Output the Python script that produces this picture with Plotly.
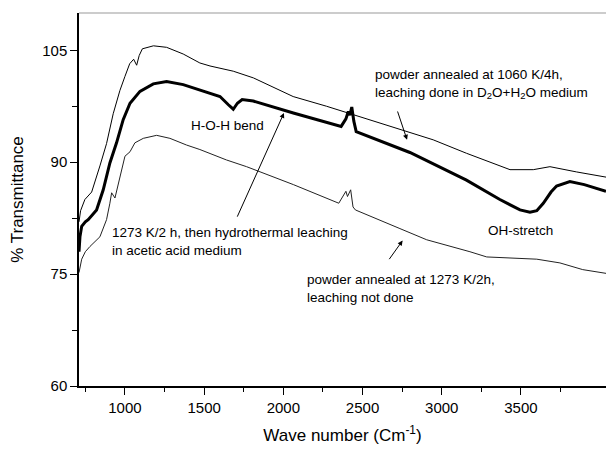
import plotly.graph_objects as go

# --- data ---
top_x = [710, 720, 747, 790, 842, 884, 926, 968, 1000, 1030, 1055, 1074, 1090, 1110, 1180, 1263,
         1368, 1473, 1537, 1684, 1811, 1937, 2062, 2273, 2378, 2946, 3156, 3431, 3578, 3683,
         3850, 4037]
top_y = [82.0, 83.5, 85.0, 86.0, 89.5, 92.5, 96.5, 99.6, 101.5, 103.2, 103.8, 103.0, 104.3, 105.2,
         105.6, 105.4, 104.5, 103.3, 102.9, 102.2, 101.3, 100.0, 98.8, 97.5, 96.8, 93.0, 91.2,
         89.0, 89.0, 89.4, 88.7, 88.0]

mid_x = [710, 716, 727, 750, 768, 800, 821, 863, 905, 947, 989, 1032, 1095, 1179, 1263, 1368,
         1473, 1600, 1653, 1684, 1710, 1740, 1810, 2063, 2365, 2395, 2410, 2420, 2432, 2445,
         2460, 2799, 3156, 3367, 3494, 3557, 3600, 3641, 3690, 3725, 3809, 3900, 4037]
mid_y = [78.0, 80.0, 81.4, 82.0, 82.3, 83.0, 83.6, 86.3, 89.9, 92.6, 95.7, 97.9, 99.5, 100.5,
         100.8, 100.4, 99.7, 98.8, 97.7, 97.1, 97.9, 98.4, 98.2, 96.6, 94.8, 95.8, 96.8, 96.3,
         97.4, 95.5, 94.1, 91.3, 87.6, 85.0, 83.6, 83.3, 83.5, 84.5, 86.0, 86.8, 87.4, 87.0, 86.1]

low_x = [710, 716, 727, 750, 779, 842, 884, 905, 916, 937, 968, 1000, 1032, 1063, 1116, 1200,
         1284, 1389, 1473, 1641, 1768, 2063, 2350, 2380, 2395, 2405, 2425, 2440, 2455, 2736,
         2905, 3178, 3284, 3494, 3600, 3746, 3890, 4037]
low_y = [75.2, 76.0, 77.0, 78.0, 78.7, 80.0, 82.3, 84.5, 85.9, 85.2, 88.1, 90.8, 91.4, 92.6,
         93.2, 93.6, 93.2, 92.3, 91.7, 90.3, 89.4, 87.0, 84.5, 85.6, 86.1, 85.4, 86.3, 84.0,
         83.6, 81.1, 79.6, 78.0, 77.3, 77.1, 77.0, 76.5, 75.6, 75.1]

x_ticks = [1000, 1500, 2000, 2500, 3000, 3500]
y_ticks = [60, 75, 90, 105]

FONT = "Liberation Sans, Arial, sans-serif"

fig = go.Figure()
fig.add_trace(go.Scatter(x=top_x, y=top_y, mode="lines",
                         line=dict(color="black", width=1), showlegend=False))
fig.add_trace(go.Scatter(x=mid_x, y=mid_y, mode="lines",
                         line=dict(color="black", width=3), showlegend=False))
fig.add_trace(go.Scatter(x=low_x, y=low_y, mode="lines",
                         line=dict(color="#222222", width=1), showlegend=False))

ann_font = dict(family=FONT, size=13.5, color="black")
annotations = [
    dict(x=2568, y=100.5, xref="x", yref="y", xanchor="left", yanchor="middle", align="left",
         text="powder annealed at 1060 K/4h,<br>leaching done in D<sub>2</sub>O+H<sub>2</sub>O medium",
         showarrow=False, font=ann_font),
    dict(x=2781, y=93.0, ax=2718, ay=97.0, xref="x", yref="y", axref="x", ayref="y",
         text="", showarrow=True, arrowhead=2, arrowsize=1, arrowwidth=1, arrowcolor="black"),
    dict(x=1647, y=94.9, xref="x", yref="y", text="H-O-H bend", showarrow=False, font=ann_font),
    dict(x=2004, y=96.6, ax=1705, ay=82.5, xref="x", yref="y", axref="x", ayref="y",
         text="", showarrow=True, arrowhead=2, arrowsize=1, arrowwidth=1, arrowcolor="black"),
    dict(x=905, y=79.4, xref="x", yref="y", xanchor="left", yanchor="middle", align="left",
         text="1273 K/2 h, then hydrothermal leaching<br>in acetic acid medium",
         showarrow=False, font=ann_font),
    dict(x=3497, y=80.9, xref="x", yref="y", text="OH-stretch", showarrow=False, font=ann_font),
    dict(x=2136, y=73.1, xref="x", yref="y", xanchor="left", yanchor="middle", align="left",
         text="powder annealed at 1273 K/2h,<br>leaching not done",
         showarrow=False, font=ann_font),
    dict(x=2753, y=79.5, ax=2662, ay=76.8, xref="x", yref="y", axref="x", ayref="y",
         text="", showarrow=True, arrowhead=2, arrowsize=1, arrowwidth=1, arrowcolor="black"),
]

fig.update_layout(
    width=606, height=451,
    margin=dict(l=79, r=0, t=13, b=65),
    paper_bgcolor="white", plot_bgcolor="white",
    font=dict(family=FONT, color="black"),
    annotations=annotations,
    shapes=[dict(type="line", xref="paper", yref="paper", x0=0, x1=1, y0=1, y1=1,
                 line=dict(color="#999999", width=1))],
    xaxis=dict(range=[710, 4037], tickvals=x_ticks, ticks="outside", ticklen=7, tickwidth=1.3,
               tickcolor="black", showline=True, linecolor="black", linewidth=1.5,
               showgrid=False, zeroline=False, tickfont=dict(size=15, family=FONT),
               minor=dict(tickvals=[750, 1250, 1750, 2250, 2750, 3250, 3750], ticks="outside",
                          ticklen=4, tickcolor="black", tickwidth=1.3, showgrid=False),
               title=dict(text="Wave number (Cm<sup>-1</sup>)", font=dict(size=17, family=FONT),
                          standoff=14)),
    yaxis=dict(range=[60, 110], tickvals=y_ticks, ticks="outside", ticklen=7, tickwidth=1.3,
               tickcolor="black", showline=True, linecolor="black", linewidth=1.5,
               showgrid=False, zeroline=False, tickfont=dict(size=15, family=FONT),
               minor=dict(tickvals=[67.5, 82.5, 97.5], ticks="outside", ticklen=5,
                          tickcolor="black", tickwidth=1.3, showgrid=False),
               title=dict(text="% Transmittance", font=dict(size=17, family=FONT), standoff=14)),
)

fig.write_html("out.html")
